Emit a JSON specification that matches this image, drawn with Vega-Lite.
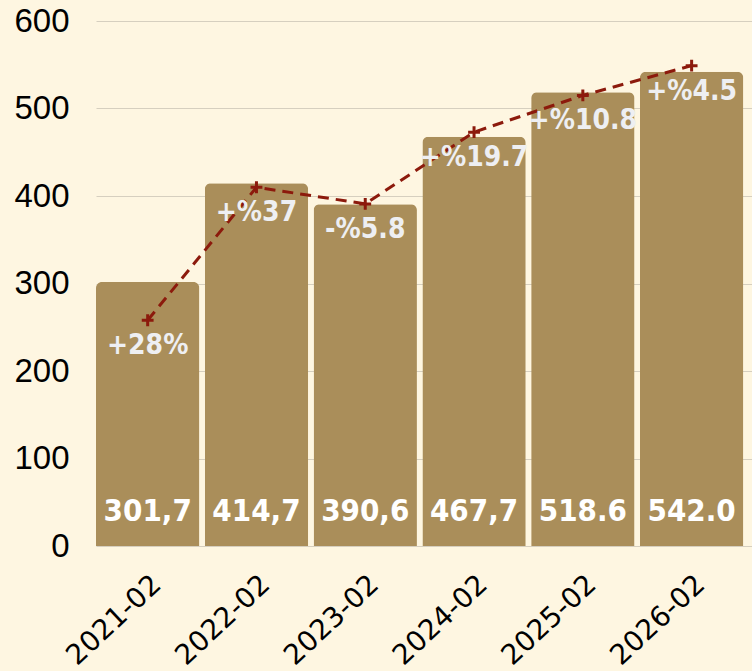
{
  "$schema": "https://vega.github.io/schema/vega-lite/v6.json",
  "width": 656,
  "height": 525,
  "autosize": {"type": "none"},
  "padding": {"left": 96, "top": 21, "right": 0, "bottom": 125},
  "background": "#FEF6E1",
  "config": {"view": {"stroke": null}},
  "data": {
    "values": [
      {"period": "2021-02", "value": 301.7, "label": "301,7", "trend": 258, "change": "+28%"},
      {"period": "2022-02", "value": 414.7, "label": "414,7", "trend": 410, "change": "+%37"},
      {"period": "2023-02", "value": 390.6, "label": "390,6", "trend": 391, "change": "-%5.8"},
      {"period": "2024-02", "value": 467.7, "label": "467,7", "trend": 473, "change": "+%19.7"},
      {"period": "2025-02", "value": 518.6, "label": "518.6", "trend": 515, "change": "+%10.8"},
      {"period": "2026-02", "value": 542.0, "label": "542.0", "trend": 549, "change": "+%4.5"}
    ]
  },
  "encoding": {
    "x": {
      "field": "period",
      "type": "nominal",
      "sort": null,
      "scale": {"paddingInner": 0.05, "paddingOuter": 0.04, "align": 0},
      "axis": {
        "title": null,
        "labelAngle": -43,
        "labelFont": "DejaVu Sans",
        "labelFontSize": 28,
        "labelColor": "#000000",
        "ticks": false,
        "domain": false,
        "labelPadding": 24
      }
    }
  },
  "layer": [
    {
      "mark": {"type": "bar", "color": "#AA8E5A", "cornerRadiusTopLeft": 6, "cornerRadiusTopRight": 6},
      "encoding": {
        "y": {
          "field": "value",
          "type": "quantitative",
          "scale": {"domain": [0, 600], "nice": false},
          "axis": {
            "title": null,
            "values": [0, 100, 200, 300, 400, 500, 600],
            "labelFont": "Liberation Sans",
            "labelFontSize": 33,
            "labelColor": "#000000",
            "ticks": false,
            "domain": false,
            "labelPadding": 27,
            "gridColor": "#D6CFBF",
            "gridWidth": 1.2
          }
        }
      }
    },
    {
      "mark": {"type": "text", "color": "#FFFFFF", "font": "DejaVu Sans Condensed", "fontWeight": "bold", "fontSize": 31, "baseline": "middle", "dy": -34},
      "encoding": {
        "y": {"datum": 0, "type": "quantitative"},
        "text": {"field": "label"}
      }
    },
    {
      "mark": {"type": "line", "color": "#8C1A0C", "strokeWidth": 3, "strokeDash": [11, 7]},
      "encoding": {
        "y": {"field": "trend", "type": "quantitative"}
      }
    },
    {
      "mark": {"type": "point", "shape": "M-1,0L1,0M0,-1L0,1", "filled": false, "color": "#8C1A0C", "strokeWidth": 3, "size": 140, "opacity": 1},
      "encoding": {
        "y": {"field": "trend", "type": "quantitative"}
      }
    },
    {
      "mark": {"type": "text", "color": "#EEEFF2", "font": "DejaVu Sans Condensed", "fontWeight": "bold", "fontSize": 28, "baseline": "middle", "dy": 26},
      "encoding": {
        "y": {"field": "trend", "type": "quantitative"},
        "text": {"field": "change"}
      }
    }
  ]
}
